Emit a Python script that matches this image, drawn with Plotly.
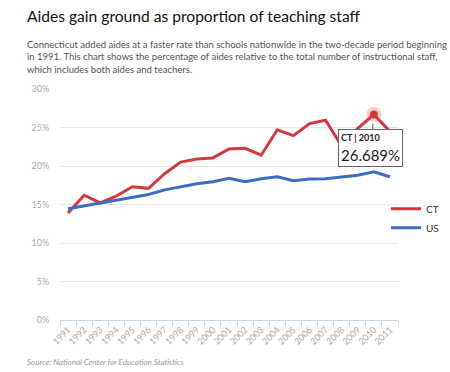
import plotly.graph_objects as go

years = [str(y) for y in range(1991, 2012)]
ct = [13.9, 16.2, 15.2, 16.1, 17.3, 17.1, 19.0, 20.5, 20.9, 21.05, 22.2, 22.3, 21.4,
      24.7, 23.95, 25.5, 25.95, 22.6, 24.9, 26.689, 24.5]
us = [14.45, 14.8, 15.2, 15.6, 15.9, 16.3, 16.9, 17.3, 17.7, 17.95, 18.4, 17.97, 18.35,
      18.6, 18.1, 18.3, 18.35, 18.57, 18.8, 19.25, 18.6]
y_ticks = [0, 5, 10, 15, 20, 25, 30]
y_labels = [f"{v}%" for v in y_ticks]
hover_year = "2010"

title = "Aides gain ground as proportion of teaching staff"
subtitle = ("Connecticut added aides at a faster rate than schools nationwide in the two-decade period beginning<br>"
            "in 1991. This chart shows the percentage of aides relative to the total number of instructional staff,<br>"
            "which includes both aides and teachers.")
source = "Source: National Center for Education Statistics"

RED = "#d2393c"
BLUE = "#3d6cc4"
FONT = "Lato"

fig = go.Figure()
fig.add_trace(go.Scatter(x=years, y=ct, name="CT", mode="lines",
                         line=dict(color=RED, width=3)))
fig.add_trace(go.Scatter(x=years, y=us, name="US", mode="lines",
                         line=dict(color=BLUE, width=3)))

hi = years.index(hover_year)
fig.add_trace(go.Scatter(x=[years[hi]], y=[ct[hi]], mode="markers", showlegend=False,
                         marker=dict(color=RED, size=15, opacity=0.25)))
fig.add_trace(go.Scatter(x=[years[hi]], y=[ct[hi]], mode="markers", showlegend=False,
                         marker=dict(color=RED, size=8)))

fig.add_annotation(x=hi, y=ct[hi], xref="x", yref="y",
                   text=f"<b><span style='font-size:9px'>CT | {hover_year}</span></b><br>{ct[hi]:.3f}%",
                   showarrow=True, arrowhead=0, arrowwidth=1, arrowcolor="#666",
                   ax=-3, ay=34, standoff=9, align="left",
                   font=dict(family=FONT, size=15, color="#222"),
                   bgcolor="white", bordercolor="#666", borderwidth=1, borderpad=2)

fig.add_annotation(x=0, y=1, xref="paper", yref="paper", text=title, showarrow=False,
                   xanchor="left", yanchor="middle", xshift=-35, yshift=73,
                   font=dict(family=FONT, size=15.6, color="#111"))
fig.add_annotation(x=0, y=1, xref="paper", yref="paper", text=subtitle, showarrow=False,
                   xanchor="left", yanchor="top", align="left", xshift=-35, yshift=52,
                   font=dict(family=FONT, size=9.5, color="#555"))
fig.add_annotation(x=0, y=0, xref="paper", yref="paper", text=f"<i>{source}</i>", showarrow=False,
                   xanchor="left", yanchor="middle", xshift=-35, yshift=-42,
                   font=dict(family=FONT, size=8, color="#999"))

fig.update_layout(
    width=450, height=372,
    margin=dict(l=60, r=52, t=89, b=52, autoexpand=False),
    paper_bgcolor="white", plot_bgcolor="white",
    font=dict(family=FONT),
    showlegend=True,
    legend=dict(x=0.9645, y=0.44, xanchor="left", yanchor="middle",
                font=dict(family=FONT, size=10, color="#333"),
                itemwidth=30, tracegroupgap=0, bgcolor="rgba(0,0,0,0)"),
    xaxis=dict(type="category", categoryorder="array", categoryarray=years,
               range=[-0.5, len(years) - 0.5], automargin=False,
               tickson="boundaries", ticks="outside", ticklen=5,
               tickcolor="#ccd6eb", showline=True, linecolor="#ccd6eb", linewidth=1,
               showgrid=False, tickangle=-45,
               tickfont=dict(family=FONT, size=9, color="#aaa")),
    yaxis=dict(range=[0, 30], tickmode="array", tickvals=y_ticks, ticktext=y_labels,
               automargin=False,
               showgrid=True, gridcolor="#e6e6e6", zeroline=False,
               ticks="outside", ticklen=8, tickcolor="rgba(0,0,0,0)",
               tickfont=dict(family=FONT, size=9, color="#aaa")),
)

fig.write_html("out.html", config={"displayModeBar": False},
               post_script="document.body.style.margin='0';")
